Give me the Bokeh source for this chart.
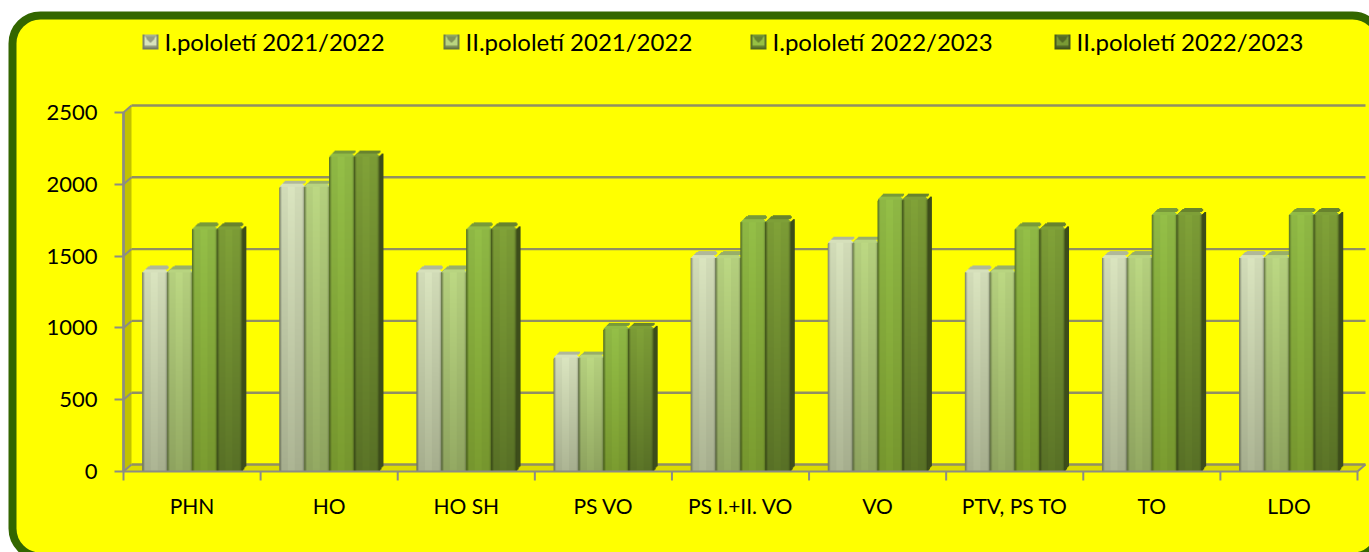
import numpy as np
from bokeh.plotting import figure
from bokeh.embed import file_html
from bokeh.resources import INLINE
from bokeh.core.properties import value
from bokeh.models import (FactorRange, Range1d, FixedTicker)

categories = ["PHN", "HO", "HO SH", "PS VO", "PS I.+II. VO", "VO", "PTV, PS TO", "TO", "LDO"]
series_names = ["I.pololetí 2021/2022", "II.pololetí 2021/2022", "I.pololetí 2022/2023", "II.pololetí 2022/2023"]
s1 = [1400, 1990, 1400, 800, 1500, 1600, 1400, 1500, 1500]
s2 = [1400, 1990, 1400, 800, 1500, 1600, 1400, 1500, 1500]
s3 = [1700, 2200, 1700, 1000, 1750, 1900, 1700, 1800, 1800]
s4 = [1700, 2200, 1700, 1000, 1750, 1900, 1700, 1800, 1800]
y_ticks = [0, 500, 1000, 1500, 2000, 2500]
top_colors = ["#d2dcb8", "#b5d07e", "#8fb845", "#7c9c36"]
bottom_colors = ["#a6ae8e", "#8ea35f", "#76962e", "#587026"]
mid_colors = ["#bcc6a3", "#a2ba6f", "#83a73a", "#6a862e"]
edge_colors = ["#70765c", "#5f7040", "#4f6a20", "#3c4f18"]
legend_swatch_px = [142, 443, 750, 1054]
GRID = "#918f62"
AXIS = "#8c8c84"
FONT = "Lato"

W, H = 1369, 552
LEFT, TOP, FRAME_W, FRAME_H = 123, 112, 1234, 359
PX_X = len(categories) / FRAME_W
PX_Y = 2500 / FRAME_H
DX, DY = 8 * PX_X, 7 * PX_Y

p = figure(width=W, height=H, output_backend="svg", toolbar_location=None,
           x_range=FactorRange(factors=categories, factor_padding=0, range_padding=0),
           y_range=Range1d(0, 2500),
           min_border_left=LEFT, min_border_right=W - LEFT - FRAME_W, min_border_top=TOP,
           min_border_bottom=H - TOP - FRAME_H,
           border_fill_color="#ffffff", background_fill_alpha=0, outline_line_alpha=0)
p.grid.visible = False

L = "annotation"


def px_x(v):
    return (v - LEFT) * PX_X


def px_y(v):
    return (TOP + FRAME_H - v) * PX_Y


# rounded panel behind everything
p.quad(left=[px_x(12)], right=[px_x(1380)], top=[px_y(15)], bottom=[px_y(556)],
       fill_color="#FFFF00", line_color="#336600", line_width=8, border_radius=28, level="guide")

ax = p.yaxis[0]
ax.level = L
ax.ticker = FixedTicker(ticks=y_ticks)
ax.major_tick_out, ax.major_tick_in = 9, 0
ax.minor_tick_line_color = None
ax.axis_line_color = AXIS; ax.axis_line_width = 2
ax.major_tick_line_color = AXIS; ax.major_tick_line_width = 2
ax.major_label_text_font = FONT; ax.major_label_text_font_size = "22px"
ax.major_label_text_color = "#000000"
ax.major_label_standoff = 17

cx = p.xaxis[0]
cx.level = L
cx.major_tick_out, cx.major_tick_in = 0, 0
cx.minor_tick_line_color = None
cx.axis_line_color = AXIS; cx.axis_line_width = 2
cx.major_label_text_font = FONT; cx.major_label_text_font_size = "21px"
cx.major_label_text_color = "#000000"
cx.major_label_standoff = 21
cx.major_label_orientation = "horizontal"

n = len(categories)
# left wall and floor
p.patch([0, 0, DX, DX], [0, y_ticks[-1], y_ticks[-1] + DY, DY], color="#c2c200", line_alpha=0, level=L)
p.patch([0, n, n + DX, DX], [0, 0, DY, DY], color="#dcdc00", line_alpha=0, level=L)
# back gridlines and wall connectors
p.segment(x0=[DX] * 6, x1=[n + DX] * 6, y0=[v + DY for v in y_ticks], y1=[v + DY for v in y_ticks],
          line_color=GRID, line_width=2.4, level=L)
p.segment(x0=[0] * 6, x1=[DX] * 6, y0=y_ticks, y1=[v + DY for v in y_ticks], line_color=AXIS, line_width=2, level=L)
p.segment(x0=[n], x1=[n + DX], y0=[0], y1=[DY], line_color=AXIS, line_width=2, level=L)
# re-stroke the value axis above the wall, category boundary ticks
p.segment(x0=[0], x1=[0], y0=[0], y1=[y_ticks[-1]], line_color=AXIS, line_width=2.5, level=L)
p.segment(x0=list(range(n + 1)), x1=list(range(n + 1)), y0=[0] * (n + 1), y1=[-9 * PX_Y] * (n + 1),
          line_color=AXIS, line_width=2, level=L)


def rgb(h):
    return np.array([int(h[i:i + 2], 16) for i in (1, 3, 5)], dtype=float)


def bar_image(val, top_c, bot_c, fw=25, side=4, cap=7, sink=2):
    hf = max(int(round(val / PX_Y)) - sink, 1)
    h, w = hf + cap, fw + side
    img = np.zeros((h, w, 4), dtype=np.uint8)
    top_c, bot_c = rgb(top_c), rgb(bot_c)
    shade = np.ones(fw)
    shade[0], shade[1], shade[2] = 0.72, 0.9, 1.0
    shade[fw // 2 - 4:fw // 2 + 3] = 1.04
    shade[-3], shade[-2], shade[-1] = 0.97, 0.86, 0.66
    for r in range(hf):
        t = r / max(hf - 1, 1)
        base = bot_c + (top_c - bot_c) * t
        row = np.clip(base[None, :] * shade[:, None], 0, 255)
        img[r, :fw, :3] = row
        img[r, :fw, 3] = 255
    # side face
    dark = (bot_c + (top_c - bot_c) * 0.4) * 0.6
    for c in range(side):
        lo = int(round((c + 1) * 5 / side))
        hi = hf + int(round((c + 1) * 4 / side)) - (1 if c == side - 1 else 0)
        img[lo:min(hi, h), fw + c, :3] = dark
        img[lo:min(hi, h), fw + c, 3] = 255
    # rounded top: a light front bevel, then the darker back of the cap
    front = np.clip(top_c * 1.02, 0, 255)
    back = np.clip(top_c * 0.84, 0, 255)
    insets = [(0, 0), (1, 1), (2, 2)]
    for k, (a, b) in enumerate(insets):
        img[hf + k, a:fw - b, :3] = front
        img[hf + k, a:fw - b, 3] = 255
    rear = [(3, 4), (4, 3), (5, 3), (7, 4)]
    for j, (a, b) in enumerate(rear):
        k = len(insets) + j
        img[hf + k, a:w - b, :3] = back
        img[hf + k, a:w - b, 3] = 255
    return img.view(dtype=np.uint32).reshape(h, w)


def swatch_image(base, w=16, h=15):
    base = rgb(base)
    img = np.zeros((h, w, 4), dtype=np.uint8)
    for r in range(h):
        for c in range(w):
            d_top, d_bot = h - 1 - r, r
            d_side = min(c, w - 1 - c)
            if d_bot <= 1:
                f = 0.62
            elif d_side <= 1:
                f = 0.68
            elif d_side < (d_top + 1) * 0.8 and d_top < 11:
                f = 1.15
            elif d_top <= 1:
                f = 0.9
            else:
                f = 0.8
            img[r, c, :3] = np.clip(base * f, 0, 255)
            img[r, c, 3] = 255
    return img.view(dtype=np.uint32).reshape(h, w)


series = [s1, s2, s3, s4]
GROUP_START, PITCH = 0.14, 0.1815
FW, SIDE, CAP, SINK = 25, 4, 7, 2
for k, vals in enumerate(series):
    xs = [i + GROUP_START + k * PITCH for i in range(n)]
    p.vbar(x=[v + FW * PX_X / 2 for v in xs], top=[v - SINK * PX_Y for v in vals], bottom=0, width=FW * PX_X,
           fill_color=mid_colors[k], line_color=edge_colors[k], line_width=1, level=L)
    imgs = [bar_image(v, top_colors[k], bottom_colors[k], FW, SIDE, CAP, SINK) for v in vals]
    p.image_rgba(image=imgs, x=xs, y=[0] * n, dw=[(FW + SIDE) * PX_X] * n,
                 dh=[v + (CAP - SINK) * PX_Y for v in vals], level=L)

# legend row: glyphs, because a Legend outside the frame gets clipped
for k, name in enumerate(series_names):
    sx = legend_swatch_px[k]
    p.image_rgba(image=[swatch_image(mid_colors[k])], x=[px_x(sx)], y=[px_y(49)],
                 dw=[16 * PX_X], dh=[15 * PX_Y], level=L)
    p.text(x=[px_x(sx + 22)], y=[px_y(41)], text=[name], text_font=value(FONT), text_font_size="24px",
           text_color="#000000", text_align="left", text_baseline="middle", level=L)

open("out.html", "w").write(file_html(p, INLINE))
